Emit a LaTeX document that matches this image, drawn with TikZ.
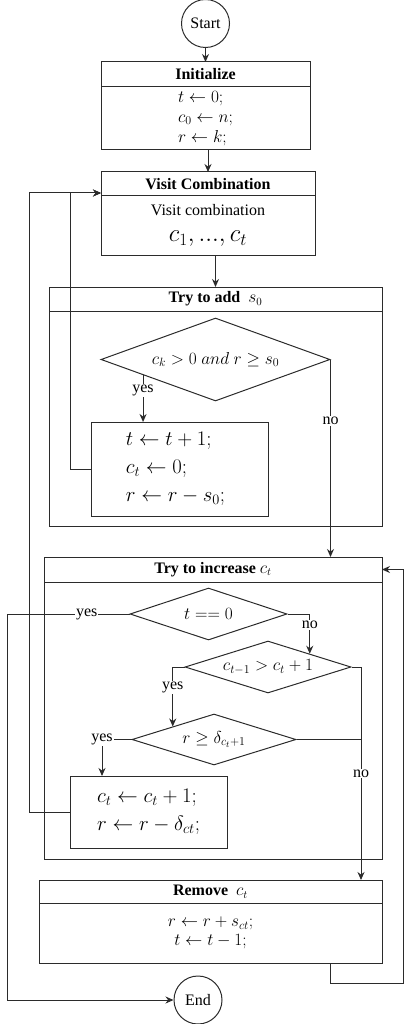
\documentclass[tikz,border=0pt]{standalone}
\usepackage{amsmath}
\usepackage{amssymb}
\usepackage{fontspec}
\setmainfont{Liberation Serif}
\usepackage{tikz}
\usetikzlibrary{calc, positioning, shapes.geometric, arrows.meta}
\definecolor{lineColor}{HTML}{2B2B2B}

\begin{document}
\begin{tikzpicture}[x=1pt, y=-1pt,
    every node/.style={font=\fontsize{16}{19}\selectfont},
    frame/.style={draw=lineColor, line width=1pt, rectangle, inner sep=0pt, outer sep=0pt},
    headbox/.style={frame, minimum height=24pt, font=\fontsize{16}{19}\selectfont\bfseries},
    decision/.style={draw=lineColor, line width=1pt, diamond, inner sep=0pt, font=\fontsize{18.5}{21}\selectfont},
    terminal/.style={draw=lineColor, line width=1pt, circle, minimum size=48pt, inner sep=0pt},
    flow/.style={draw=lineColor, line width=1pt, -{Stealth[length=8pt, width=7pt]}},
    link/.style={draw=lineColor, line width=1pt},
    lbl/.style={fill=white, inner sep=1pt}]
    \useasboundingbox (0,0) rectangle (412,1024);

    \node[terminal] (start) at (205.5,23.5) {Start};

    \node[headbox, minimum width=209pt, minimum height=25pt] (inith) at (205.5,74.5) {Initialize};
    \node[frame, below=0pt of inith, minimum width=209pt, minimum height=63pt, align=left,
        font=\fontsize{17.5}{20}\selectfont] (initb)
        {$t \leftarrow 0;$\\ $c_0 \leftarrow n;$\\ $r \leftarrow k;$};

    \node[headbox, minimum width=214pt] (visith) at (208,184) {Visit Combination};
    \node[frame, below=0pt of visith, minimum width=214pt, minimum height=59pt, align=center] (visitb)
        {Visit combination\\[7pt] {\fontsize{24}{26}\selectfont $c_1, ..., c_t$}};

    \node[headbox, minimum width=333pt] (addh) at (215.5,299) {Try to add~~$s_0$};
    \node[frame, below=0pt of addh, minimum width=333pt, minimum height=215pt] (addb) {};
    \node[decision, aspect=2.76, minimum width=229pt, minimum height=83pt] (dec1) at (215.5,359.5)
        {$c_k > 0 \ and\ r \geq s_0$};
    \node[frame, minimum width=177pt, minimum height=94pt, align=left,
        font=\fontsize{21}{28}\selectfont] (act1) at (179.5,469)
        {\hspace*{-8pt}$t \leftarrow t + 1;$\\ \hspace*{-8pt}$c_t \leftarrow 0;$\\ \hspace*{-8pt}$r \leftarrow r - s_0;$};

    \node[headbox, minimum width=338pt, minimum height=25pt] (inch) at (213,569.5) {Try to increase $c_t$};
    \node[frame, below=0pt of inch, minimum width=338pt, minimum height=277pt] (incb) {};
    \node[decision, aspect=3, minimum width=157pt, minimum height=52pt] (tzero) at (208.5,614) {$t == 0$};
    \node[decision, aspect=3.2, minimum width=166pt, minimum height=52pt] (cgt) at (268,667)
        {$c_{t-1} > c_t + 1$};
    \node[decision, aspect=3.2, minimum width=164pt, minimum height=51pt] (rge) at (214,739.5)
        {$r \geq \delta_{c_t+1}$};
    \node[frame, minimum width=157pt, minimum height=72pt, align=left,
        font=\fontsize{21}{28}\selectfont] (act2) at (148.5,812)
        {$c_t \leftarrow c_t + 1;$\\ $r \leftarrow r - \delta_{ct};$};

    \node[headbox, minimum width=343pt, minimum height=23pt] (remh) at (210.5,891.5) {Remove~~$c_t$};
    \node[frame, below=0pt of remh, minimum width=343pt, minimum height=60pt, align=center,
        font=\fontsize{18}{19}\selectfont] (remb)
        {$r \leftarrow r + s_{ct};$\\ $t \leftarrow t - 1;$};

    \node[terminal] (end) at (198,1000) {End};

    \coordinate (vin) at ([yshift=3pt]visith.south west);
    \coordinate (y1) at ($(dec1.west)!0.37!(dec1.south)$);

    \draw[flow] (start) -- (inith);
    \draw[flow] (initb.south -| visith.north) -- (visith.north);
    \draw[flow] (visitb.south -| addh.north) -- (addh.north);
    \draw[flow] (y1) -- (y1 |- act1.north) node[lbl, pos=0.33] {yes};
    \draw[flow] (dec1.east) -- (dec1.east |- inch.north) node[lbl, pos=0.31] {no};
    \draw[flow] (act1.west) -- ++(-21,0) |- (vin);
    \draw[flow] (act2.west) -- ++(-41,0) |- (vin);

    \draw[flow] (tzero.west) -- node[lbl, pos=0.35] {yes} ++(-122,0) |- (end.west);
    \draw[flow] (tzero.east) -| ($(cgt.north)!0.5!(cgt.east)$) node[lbl, pos=0.64] {no};
    \draw[flow] (cgt.west) -| ($(rge.west)!0.5!(rge.north)$) node[lbl, pos=0.675] {yes};
    \draw[flow] (cgt.east) -| ([xshift=-21pt]remh.north east) node[lbl, pos=0.75] {no};
    \draw[link] (rge.east) -- ([xshift=-21pt]remh.north east |- rge.east);
    \draw[flow] (rge.west) -| ([xshift=32pt]act2.north west) node[lbl, pos=0.5] {yes};
    \draw[flow] ([xshift=-52pt]remb.south east) -- ++(0,20) -- ++(73,0) |- (inch.east);
\end{tikzpicture}
\end{document}
